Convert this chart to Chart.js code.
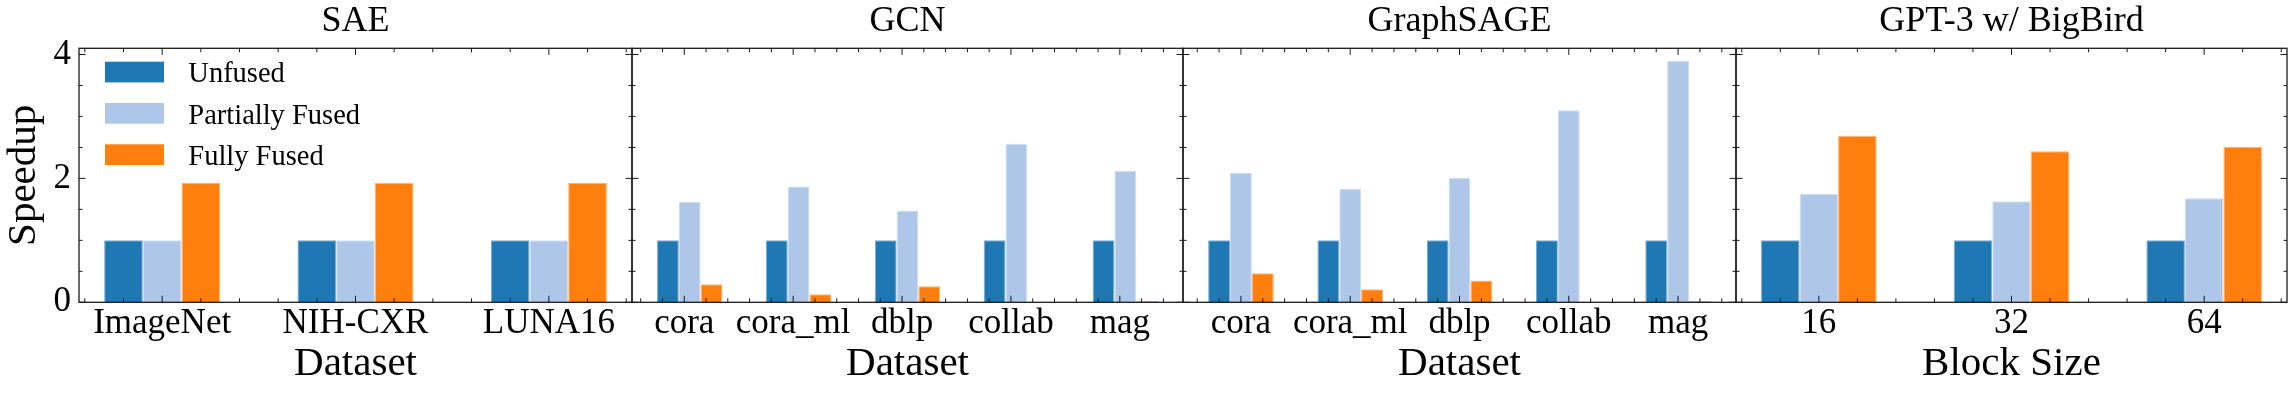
<!DOCTYPE html>
<html>
<head>
<meta charset="utf-8">
<script src="https://cdn.jsdelivr.net/npm/chart.js@4.4.0/dist/chart.umd.min.js"></script>
<style>
  html, body { margin: 0; padding: 0; background: #fff; overflow: hidden; }
  #wrap { position: relative; width: 2296px; height: 395px; }
  canvas { position: absolute; top: 0; }
</style>
</head>
<body>
<div id="wrap">
  <canvas id="sae" width="642" height="395" style="left:0px"></canvas>
  <canvas id="gcn" width="571" height="395" style="left:622px"></canvas>
  <canvas id="sage" width="573" height="395" style="left:1173px"></canvas>
  <canvas id="gpt" width="570" height="395" style="left:1726px"></canvas>
</div>
<script>
// series
const seriesNames = ['Unfused', 'Partially Fused', 'Fully Fused'];
const seriesColors = ['#1f77b4', '#aec7e8', '#ff7f0e'];
const seriesEdges = ['rgba(31,119,180,0.6)', 'rgba(174,199,232,0.6)', 'rgba(255,127,14,0.6)'];

// SAE
const saeLabels = ['ImageNet', 'NIH-CXR', 'LUNA16'];
const saeUnfused = [1, 1, 1];
const saePartial = [1, 1, 1];
const saeFully = [1.93, 1.93, 1.93];

// GCN
const gcnLabels = ['cora', 'cora_ml', 'dblp', 'collab', 'mag'];
const gcnUnfused = [1, 1, 1, 1, 1];
const gcnPartial = [1.62, 1.87, 1.48, 2.56, 2.12];
const gcnFully = [0.29, 0.13, 0.26, 0.01, 0.02];

// GraphSAGE
const sageLabels = ['cora', 'cora_ml', 'dblp', 'collab', 'mag'];
const sageUnfused = [1, 1, 1, 1, 1];
const sagePartial = [2.09, 1.83, 2.01, 3.10, 3.90];
const sageFully = [0.47, 0.21, 0.35, 0.01, 0.02];

// GPT-3 w/ BigBird
const gptLabels = ['16', '32', '64'];
const gptUnfused = [1, 1, 1];
const gptPartial = [1.75, 1.63, 1.68];
const gptFully = [2.69, 2.44, 2.51];

const yTicks = [0, 2, 4];

Chart.defaults.font.family = '"Liberation Serif", "Times New Roman", serif';
Chart.defaults.color = '#000';

// inward ticks on all four sides + frame
const frameTicks = {
  id: 'frameTicks',
  afterDatasetsDraw(chart) {
    const { ctx, chartArea: a, scales: { x, y } } = chart;
    ctx.save();
    ctx.strokeStyle = '#1a1a1a';
    ctx.lineWidth = 1;
    ctx.beginPath();
    for (let v = 0; v <= y.max + 1e-9; v += 0.5) {
      const py = y.getPixelForValue(v);
      const len = v % 2 === 0 ? 6.5 : 3.5;
      ctx.moveTo(a.left, py); ctx.lineTo(a.left + len, py);
      ctx.moveTo(a.right, py); ctx.lineTo(a.right - len, py);
    }
    const k0 = Math.ceil(x.min / 0.2 - 1e-9);
    const k1 = Math.floor(x.max / 0.2 + 1e-9);
    for (let k = k0; k <= k1; k++) {
      const px = x.getPixelForValue(k * 0.2);
      const len = k % 5 === 0 ? 6.5 : 4;
      ctx.moveTo(px, a.bottom); ctx.lineTo(px, a.bottom - len);
      ctx.moveTo(px, a.top); ctx.lineTo(px, a.top + len);
    }
    ctx.stroke();
    ctx.lineWidth = 1.3;
    ctx.strokeRect(a.left, a.top, a.right - a.left, a.bottom - a.top);
    ctx.restore();
  }
};

const insideLegend = {
  id: 'insideLegend',
  afterDatasetsDraw(chart) {
    const { ctx, chartArea: a } = chart;
    ctx.save();
    ctx.font = '28.5px "Liberation Serif"';
    ctx.textBaseline = 'alphabetic';
    chart.data.datasets.forEach((ds, i) => {
      const top = a.top + 13.4 + i * 41.3;
      ctx.fillStyle = ds.backgroundColor;
      ctx.fillRect(a.left + 26, top, 59, 20.7);
      ctx.fillStyle = '#000';
      ctx.fillText(ds.label, a.left + 109.3, top + 20.6);
    });
    ctx.restore();
  }
};

function makePanel(id, title, labels, unfused, partial, fully, xTitle, shift, first, padL, padR) {
  const n = labels.length;
  const margin = 0.05 * (n - 0.4);
  const series = [unfused, partial, fully];
  const plugins = [frameTicks];
  if (first) plugins.push(insideLegend);

  return new Chart(document.getElementById(id), {
    type: 'bar',
    data: {
      datasets: seriesNames.map((name, s) => ({
        label: name,
        data: series[s].map((v, i) => ({ x: i + shift, y: v })),
        backgroundColor: seriesColors[s],
        borderColor: seriesEdges[s],
        borderWidth: 1,
        categoryPercentage: 0.6,
        barPercentage: 1.0,
      })),
    },
    options: {
      responsive: false,
      animation: false,
      devicePixelRatio: 1,
      layout: { padding: { left: padL, right: padR, top: 0, bottom: 0 } },
      plugins: {
        legend: { display: false },
        tooltip: { enabled: false },
        title: {
          display: true,
          text: title,
          fullSize: false,
          font: { size: 36, weight: 'normal' },
          color: '#000',
          padding: { top: 0, bottom: 5.1 },
        },
      },
      scales: {
        x: {
          type: 'linear',
          offset: false,
          bounds: 'data',
          min: shift - 0.3 - margin,
          max: shift + n - 0.7 + margin,
          grid: { display: false, drawTicks: false, offset: false },
          border: { display: false },
          afterBuildTicks: (s) => { s.ticks = labels.map((l, i) => ({ value: i })); },
          ticks: {
            autoSkip: false,
            maxRotation: 0,
            padding: 1,
            font: { size: 35 },
            color: '#000',
            callback: (v) => labels[v] ?? '',
          },
          title: {
            display: true,
            text: xTitle,
            font: { size: 41 },
            color: '#000',
            padding: { top: 0, bottom: 6.5 },
          },
          afterFit: (s) => { s.height = 92.7; s.paddingLeft = 0; s.paddingRight = 0; },
        },
        y: {
          display: first,
          min: 0,
          max: 4.1,
          grid: { display: false, drawTicks: false },
          border: { display: false },
          afterBuildTicks: (s) => { s.ticks = yTicks.map((v) => ({ value: v })); },
          ticks: { padding: 8, font: { size: 35 }, color: '#000' },
          title: {
            display: true,
            text: 'Speedup',
            font: { size: 41 },
            color: '#000',
            padding: 0,
          },
          afterFit: (s) => { s.width = first ? 79 : 0; },
        },
      },
    },
    plugins: plugins,
  });
}

makePanel('sae', 'SAE', saeLabels, saeUnfused, saePartial, saeFully, 'Dataset', 0, true, 0, 10);
makePanel('gcn', 'GCN', gcnLabels, gcnUnfused, gcnPartial, gcnFully, 'Dataset', 0.05, false, 10, 10);
makePanel('sage', 'GraphSAGE', sageLabels, sageUnfused, sagePartial, sageFully, 'Dataset', 0, false, 10, 10);
makePanel('gpt', 'GPT-3 w/ BigBird', gptLabels, gptUnfused, gptPartial, gptFully, 'Block Size', 0, false, 10, 9);
</script>
</body>
</html>
